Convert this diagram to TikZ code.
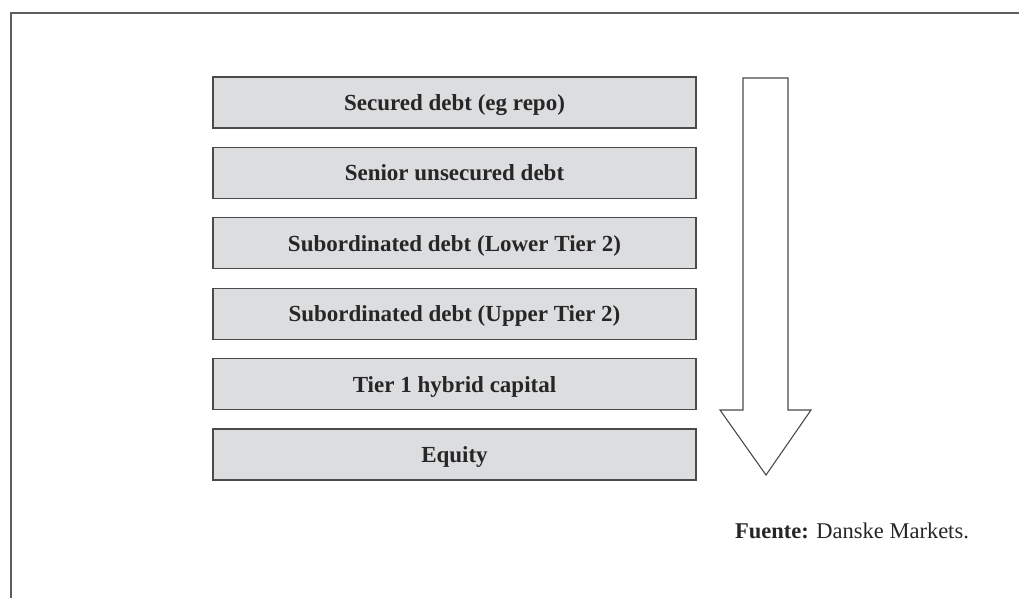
\documentclass[tikz,border=0pt]{standalone}
\usepackage{fontspec}
\setmainfont{Liberation Serif}
\definecolor{boxfill}{HTML}{DCDDDF}
\definecolor{boxline}{HTML}{4A4A4A}
\definecolor{frameline}{HTML}{5E5E5E}
\begin{document}
\begin{tikzpicture}[x=1pt,y=-1pt,
  tier/.style={draw=boxline, line width=1.2pt, fill=boxfill, minimum width=483pt, minimum height=51pt, inner sep=0pt, text height=16pt, text depth=0pt, font=\fontsize{23}{26}\selectfont\bfseries, text=black!85},
]
\useasboundingbox (0,0) rectangle (1019,598);
\draw[frameline, line width=1.6pt] (11,598) -- (11,13) -- (1019,13);
\node[tier] (b1) at (454.5,102.5) {Secured debt (eg repo)};
\node[tier] (b2) at (454.5,172.9) {Senior unsecured debt};
\node[tier] (b3) at (454.5,243.3) {Subordinated debt (Lower Tier 2)};
\node[tier] (b4) at (454.5,313.7) {Subordinated debt (Upper Tier 2)};
\node[tier] (b5) at (454.5,384.1) {Tier 1 hybrid capital};
\node[tier] (b6) at (454.5,454.5) {Equity};
\draw[boxline, line width=1.1pt, line join=miter, fill=white]
  (743,78) -- (788,78) -- (788,410) -- (811,410) -- (766,475) -- (720,410) -- (743,410) -- cycle;
\node[anchor=base west, inner sep=0pt, font=\fontsize{22.5}{26}\selectfont, text=black!85] (src) at (735,538) {\textbf{Fuente:} Danske Markets.};
\end{tikzpicture}
\end{document}
